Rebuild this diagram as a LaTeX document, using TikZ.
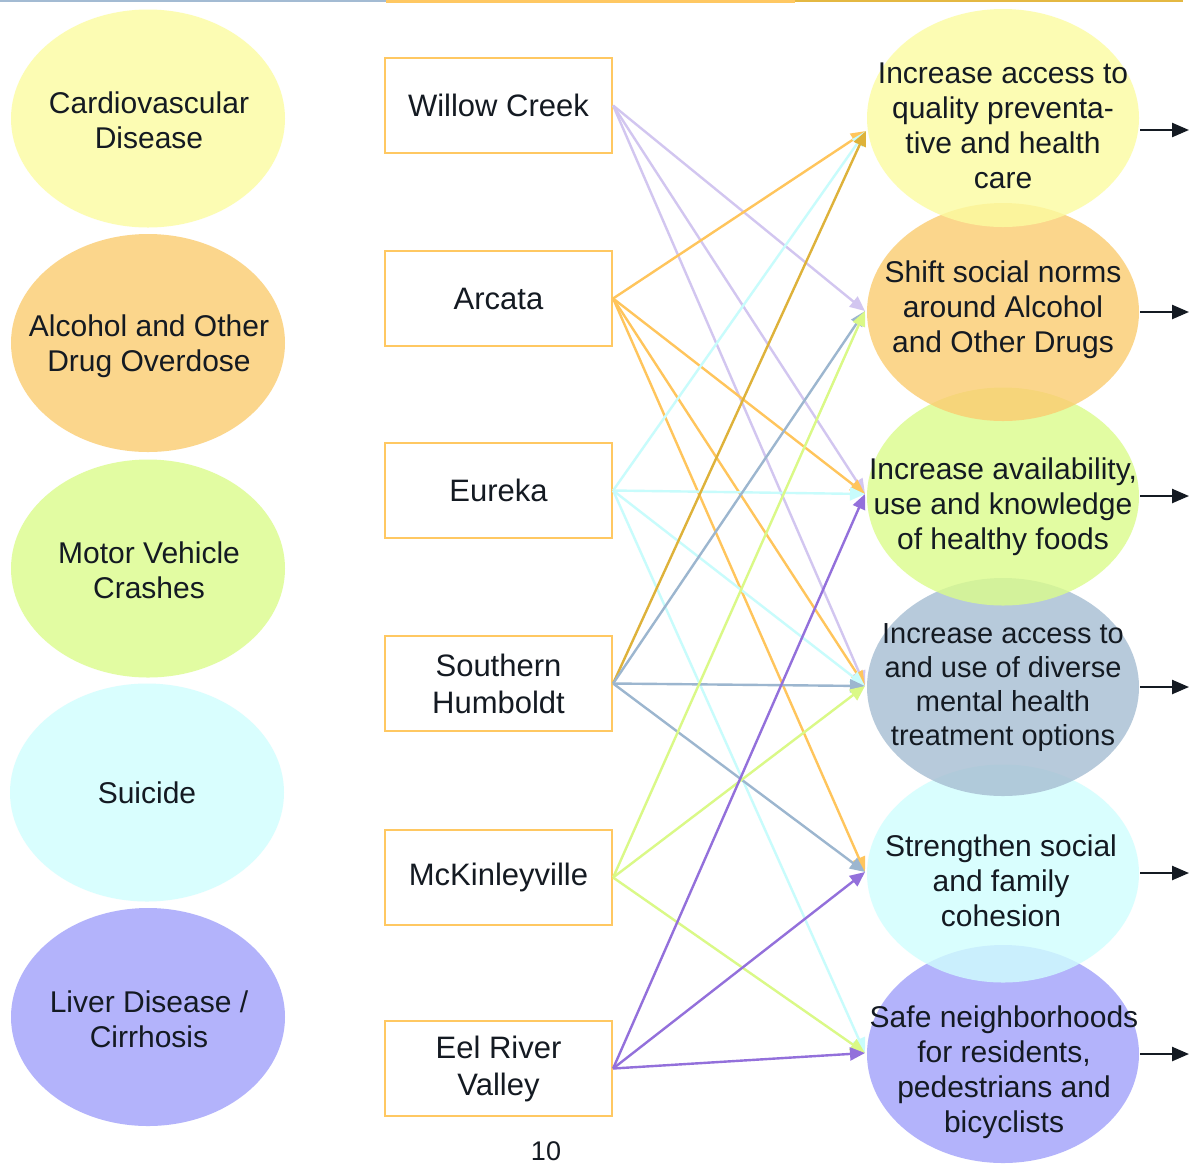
\documentclass[tikz,border=0pt]{standalone}
\usepackage{fontspec}
\setmainfont{Liberation Sans}
\usetikzlibrary{shapes.geometric,arrows.meta}
\definecolor{ink}{HTML}{141A22}
\definecolor{fYellow}{HTML}{FCFCA0}
\definecolor{fOrange}{HTML}{FBCC70}
\definecolor{fGreen}{HTML}{DBFC8B}
\definecolor{fSteel}{HTML}{A6BDD2}
\definecolor{fCyan}{HTML}{D0FEFE}
\definecolor{fPurple}{HTML}{A0A0FA}
\definecolor{lLav}{HTML}{D2C6F0}
\definecolor{lOrange}{HTML}{FFC55C}
\definecolor{lCyan}{HTML}{C8FCFC}
\definecolor{lGold}{HTML}{DEB23A}
\definecolor{lSteel}{HTML}{9CB6CF}
\definecolor{lGreen}{HTML}{DAF987}
\definecolor{lPurple}{HTML}{9370DB}
\definecolor{boxline}{HTML}{FFC862}
\definecolor{topSteel}{HTML}{A3BBD3}
\definecolor{topOrange}{HTML}{FFC862}
\definecolor{topGold}{HTML}{E4B842}
\begin{document}
\begin{tikzpicture}[x=1pt,y=-1pt,
  oval/.style={ellipse, minimum width=274pt, minimum height=218pt, inner sep=0pt, draw=none, fill opacity=0.8, text opacity=1},
  goal/.style={ellipse, minimum width=272pt, minimum height=218pt, inner sep=0pt, draw=none, fill opacity=0.8},
  lbl/.style={align=center, font=\fontsize{30}{35}\selectfont, text=ink, inner sep=0pt},
  place/.style={draw=boxline, line width=2.2pt, fill=white, minimum width=227pt, minimum height=95pt, inner sep=0pt, align=center, font=\fontsize{31}{37}\selectfont, text=ink},
  link/.style={line width=2.4pt, -{Triangle[length=15pt,width=13pt]}},
  outlink/.style={line width=2.4pt, draw=ink, -{Triangle[length=17pt,width=14pt]}}
]
\useasboundingbox (0,0) rectangle (1193,1163);
\fill[white] (0,0) rectangle (1193,1163);

% top rules
\draw[topSteel, line width=2.5pt] (0,1.2) -- (386,1.2);
\draw[topOrange, line width=3.5pt] (386,1.5) -- (795,1.5);
\draw[topGold, line width=2.5pt] (795,1.2) -- (1183,1.2);

% left ellipses
\node[oval, fill=fYellow] (L1) at (148,118.5) {};
\node[oval, fill=fOrange] (L2) at (148,343) {};
\node[oval, fill=fGreen] (L3) at (148,568.5) {};
\node[oval, fill=fCyan] (L4) at (147,792.5) {};
\node[oval, fill=fPurple] (L5) at (148,1017) {};
\node[lbl] (L1t) at (149,120.5) {Cardiovascular\\Disease};
\node[lbl] (L2t) at (149,346) {Alcohol and Other\\Drug Overdose};
\node[lbl] (L3t) at (149,570) {Motor Vehicle\\Crashes};
\node[lbl] (L4t) at (147,793) {Suicide};
\node[lbl] (L5t) at (149,1019) {Liver Disease /\\Cirrhosis};

% right ellipses (lower first, upper on top)
\node[goal, fill=fPurple] (G6) at (1003,1054) {};
\node[goal, fill=fCyan] (G5) at (1003,873.5) {};
\node[goal, fill=fSteel] (G4) at (1003,687) {};
\node[goal, fill=fGreen] (G3) at (1003,496.5) {};
\node[goal, fill=fOrange] (G2) at (1003,312) {};
\node[goal, fill=fYellow] (G1) at (1003,118) {};

\node[lbl] (G1t) at (1003,126) {Increase access to\\quality preventa-\\tive and health\\care};
\node[lbl] (G2t) at (1003,310) {Shift social norms\\around Alcohol\\and Other Drugs};
\node[lbl] (G3t) at (1003,507) {Increase availability,\\use and knowledge\\of healthy foods};
\node[lbl, font=\fontsize{29}{34}\selectfont] (G4t) at (1003,688) {Increase access to\\and use of diverse\\mental health\\treatment options};
\node[lbl] (G5t) at (1001,881) {Strengthen social\\and family\\cohesion};
\node[lbl] (G6t) at (1004,1072) {Safe neighborhoods\\for residents,\\pedestrians and\\bicyclists};

% boxes
\node[place] (B1) at (498.5,105.5) {Willow Creek};
\node[place] (B2) at (498.5,298.5) {Arcata};
\node[place] (B3) at (498.5,490.5) {Eureka};
\node[place] (B4) at (498.5,683.5) {Southern\\Humboldt};
\node[place] (B5) at (498.5,877.5) {McKinleyville};
\node[place] (B6) at (498.5,1068.5) {Eel River\\Valley};

% targets
\coordinate (t1) at (866,131);
\coordinate (t2) at (865,311);
\coordinate (t3) at (865,494);
\coordinate (t4) at (865,686);
\coordinate (t5) at (865,872);
\coordinate (t6) at (865,1053);

% connectors
\draw[link, lLav] (B1.east) -- (t2);
\draw[link, lLav] (B1.east) -- (t3);
\draw[link, lLav] (B1.east) -- (t4);

\draw[link, lOrange] (B2.east) -- (t1);
\draw[link, lOrange] (B2.east) -- (t3);
\draw[link, lOrange] (B2.east) -- (t4);
\draw[link, lOrange] (B2.east) -- (t5);

\draw[link, lCyan] (B3.east) -- (t1);
\draw[link, lCyan] (B3.east) -- (t3);
\draw[link, lCyan] (B3.east) -- (t4);
\draw[link, lCyan] (B3.east) -- (t6);

\draw[link, lGold] (B4.east) -- (t1);
\draw[link, lSteel] (B4.east) -- (t2);
\draw[link, lSteel] (B4.east) -- (t4);
\draw[link, lSteel] (B4.east) -- (t5);

\draw[link, lGreen] (B5.east) -- (t2);
\draw[link, lGreen] (B5.east) -- (t4);
\draw[link, lGreen] (B5.east) -- (t6);

\draw[link, lPurple] (B6.east) -- (t3);
\draw[link, lPurple] (B6.east) -- (t5);
\draw[link, lPurple] (B6.east) -- (t6);

% outgoing arrows
\coordinate (s1) at (1140,130);  \coordinate (e1) at (1189,130);
\coordinate (s2) at (1140,312);  \coordinate (e2) at (1189,312);
\coordinate (s3) at (1140,496);  \coordinate (e3) at (1189,496);
\coordinate (s4) at (1140,687);  \coordinate (e4) at (1189,687);
\coordinate (s5) at (1140,873);  \coordinate (e5) at (1189,873);
\coordinate (s6) at (1140,1054); \coordinate (e6) at (1189,1054);
\draw[outlink] (s1) -- (e1);
\draw[outlink] (s2) -- (e2);
\draw[outlink] (s3) -- (e3);
\draw[outlink] (s4) -- (e4);
\draw[outlink] (s5) -- (e5);
\draw[outlink] (s6) -- (e6);

% page number
\node[font=\fontsize{27}{32}\selectfont, text=ink, inner sep=0pt] (pg) at (546,1151) {10};
\end{tikzpicture}
\end{document}
